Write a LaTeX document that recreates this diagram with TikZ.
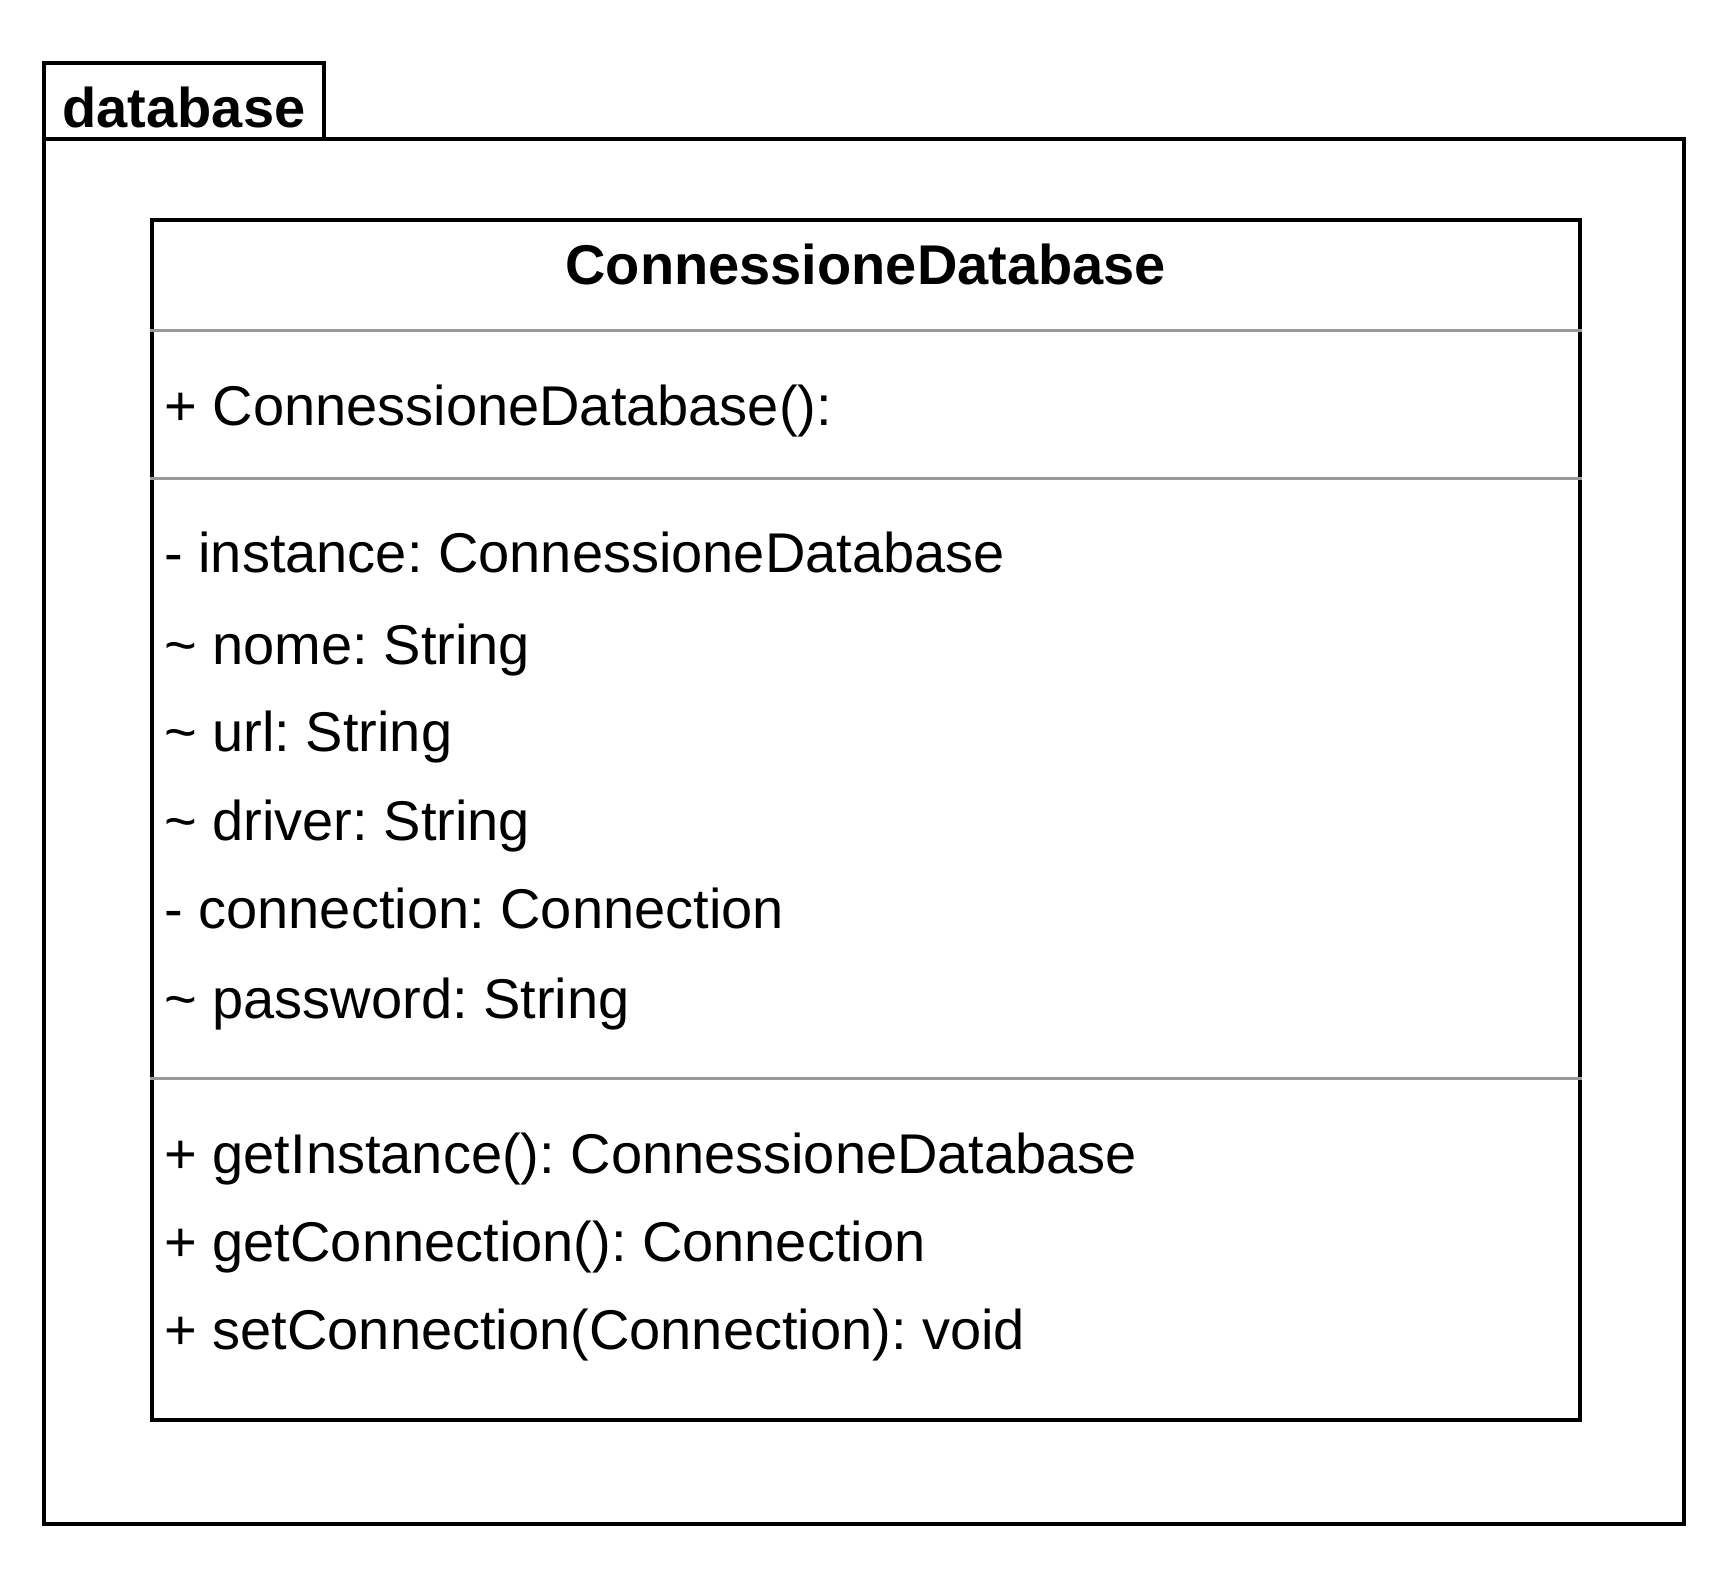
\documentclass[tikz,border=0pt]{standalone}
\usepackage{fontspec}
\setmainfont{Liberation Sans}
\frenchspacing
\usetikzlibrary{positioning}
\tikzset{
  pkg/.style={draw, line width=1.8pt, inner sep=0pt, anchor=north west},
  classbox/.style={draw, line width=1.8pt, fill=white, inner sep=0pt, anchor=north west},
  member/.style={anchor=base west, inner sep=0pt, font=\fontsize{28}{33}\selectfont},
  classname/.style={anchor=base, inner sep=0pt, font=\fontsize{28}{33}\selectfont\bfseries},
  sep/.style={draw=gray!80, line width=1.5pt}
}

\begin{document}
\begin{tikzpicture}[x=0.5pt, y=-0.5pt]
\useasboundingbox (0,0) rectangle (1728,1568);
% package database
\node[pkg, minimum width=140pt, minimum height=38pt] (tab) at (42,61) {};
\node[pkg, minimum width=820pt, minimum height=692.5pt] (pkgbody) at (42,137) {};
\node[classname] (pkgname) at (184,127.7) {database};
% class ConnessioneDatabase
\node[classbox, minimum width=714pt, minimum height=600pt] (cls) at (150,218) {};
\node[classname] (clsname) at (cls.center |- 0,284) {ConnessioneDatabase};
\draw[sep] (cls.west |- 0,330) -- (cls.east |- 0,330);
\node[member] (ctor) at (164,425) {+ ConnessioneDatabase():};
\draw[sep] (cls.west |- 0,478) -- (cls.east |- 0,478);
% attributes
\node[member] (instance) at (164,572) {- instance: ConnessioneDatabase};
\node[member] (nome) at (164,664) {\textasciitilde{} nome: String};
\node[member] (url) at (164,751) {\textasciitilde{} url: String};
\node[member] (driver) at (164,840) {\textasciitilde{} driver: String};
\node[member] (connection) at (164,928) {- connection: Connection};
\node[member] (password) at (164,1018) {\textasciitilde{} password: String};
\draw[sep] (cls.west |- 0,1078) -- (cls.east |- 0,1078);
% methods
\node[member] (getinst) at (164,1173) {+ getInstance(): ConnessioneDatabase};
\node[member] (getconn) at (164,1261) {+ getConnection(): Connection};
\node[member] (setconn) at (164,1349) {+ setConnection(Connection): void};
\end{tikzpicture}
\end{document}
